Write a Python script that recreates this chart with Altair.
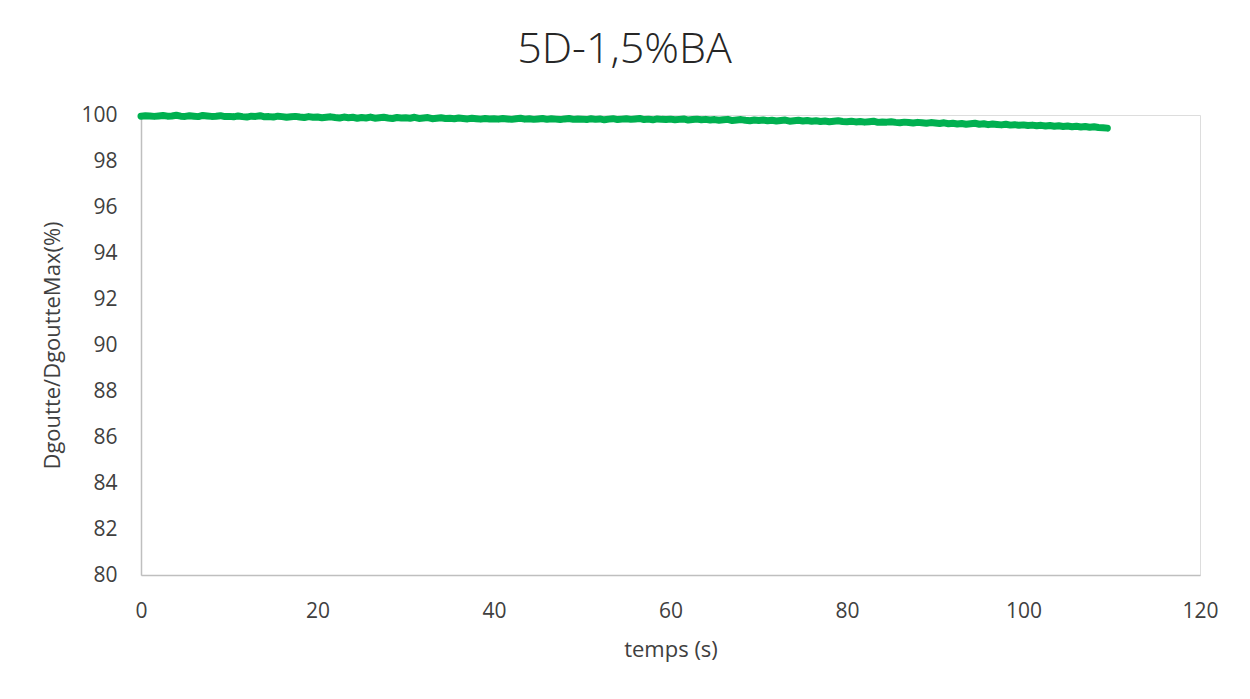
import altair as alt
import pandas as pd

TITLE = "5D-1,5%BA"
X_TITLE = "temps (s)"
Y_TITLE = "Dgoutte/DgoutteMax(%)"
X_TICKS = [0, 20, 40, 60, 80, 100, 120]
Y_TICKS = [80, 82, 84, 86, 88, 90, 92, 94, 96, 98, 100]
STEP_S = 0.5  # sampling interval of the recording (s)

ratio = [
    99.95, 99.97, 99.96, 99.94, 99.96, 99.98, 99.95, 99.96, 99.99, 99.95,
    99.94, 99.97, 99.95, 99.93, 99.98, 99.96, 99.94, 99.95, 99.97, 99.93,
    99.94, 99.92, 99.96, 99.93, 99.91, 99.95, 99.94, 99.97, 99.92, 99.93,
    99.91, 99.95, 99.93, 99.90, 99.92, 99.94, 99.91, 99.89, 99.93, 99.90,
    99.91, 99.88, 99.90, 99.92, 99.89, 99.87, 99.91, 99.88, 99.90, 99.86,
    99.89, 99.87, 99.91, 99.86, 99.88, 99.90, 99.87, 99.85, 99.89, 99.87,
    99.88, 99.86, 99.90, 99.85, 99.87, 99.89, 99.84, 99.86, 99.88, 99.85,
    99.86, 99.84, 99.87, 99.85, 99.83, 99.86, 99.84, 99.82, 99.85, 99.83,
    99.84, 99.82, 99.85, 99.83, 99.81, 99.84, 99.86, 99.82, 99.84, 99.81,
    99.83, 99.85, 99.81, 99.84, 99.82, 99.80, 99.83, 99.85, 99.81, 99.83,
    99.82, 99.80, 99.84, 99.81, 99.83, 99.79, 99.82, 99.84, 99.80, 99.82,
    99.84, 99.81, 99.83, 99.85, 99.80, 99.82, 99.79, 99.83, 99.81, 99.80,
    99.82, 99.79, 99.81, 99.83, 99.78, 99.80, 99.82, 99.79, 99.81, 99.78,
    99.80, 99.77, 99.79, 99.81, 99.76, 99.78, 99.80, 99.77, 99.75, 99.78,
    99.76, 99.78, 99.75, 99.77, 99.74, 99.76, 99.78, 99.73, 99.75, 99.77,
    99.74, 99.76, 99.73, 99.75, 99.72, 99.74, 99.71, 99.73, 99.75, 99.72,
    99.71, 99.73, 99.70, 99.72, 99.69, 99.71, 99.73, 99.68, 99.70, 99.69,
    99.71, 99.68, 99.66, 99.69, 99.67, 99.65, 99.68, 99.66, 99.64, 99.67,
    99.65, 99.63, 99.66, 99.62, 99.64, 99.61, 99.63, 99.60, 99.62, 99.64,
    99.60, 99.62, 99.58, 99.61, 99.59, 99.57, 99.60, 99.56, 99.58, 99.55,
    99.57, 99.54, 99.56, 99.53, 99.55, 99.52, 99.54, 99.51, 99.53, 99.50,
    99.52, 99.49, 99.51, 99.48, 99.50, 99.47, 99.49, 99.46, 99.45, 99.43,
]
temps = [i * STEP_S for i in range(len(ratio))]

df = pd.DataFrame({"temps": temps, "ratio": ratio})

FONT = "Open Sans"
LABEL_COLOR = "#404040"
AXIS_COLOR = "#bfbfbf"

x = alt.X(
    "temps:Q",
    scale=alt.Scale(domain=[0, 120], nice=False),
    axis=alt.Axis(
        values=X_TICKS, title=X_TITLE, grid=False, ticks=False,
        domainColor=AXIS_COLOR, domainWidth=1.5,
        labelFont=FONT, labelFontSize=21, labelColor=LABEL_COLOR, labelPadding=25,
        titleFont=FONT, titleFontSize=22, titleColor=LABEL_COLOR, titleFontWeight="normal",
        titlePadding=18, labelFlush=False,
    ),
)
y = alt.Y(
    "ratio:Q",
    scale=alt.Scale(domain=[80, 100], nice=False, zero=False),
    axis=alt.Axis(
        values=Y_TICKS, title=Y_TITLE, grid=False, ticks=False,
        domainColor=AXIS_COLOR, domainWidth=1.5,
        labelFont=FONT, labelFontSize=21, labelColor=LABEL_COLOR, labelPadding=24,
        titleFont=FONT, titleFontSize=22, titleColor=LABEL_COLOR, titleFontWeight="normal",
        titlePadding=16,
    ),
)

line = alt.Chart(df).mark_line(
    color="#00B050", strokeWidth=7, strokeCap="round", strokeJoin="round"
).encode(x=x, y=y)

chart = line.properties(
    width=1059,
    height=460,
    title=alt.TitleParams(
        TITLE, font=FONT, fontSize=43, fontWeight=300, color="#262626",
        anchor="middle", offset=32, dx=-46,
    ),
    padding={"left": 133, "top": 107, "right": 42, "bottom": 110},
    autosize=alt.AutoSizeParams(type="none"),
).configure_view(stroke=None).configure(background="white")

chart.save("out.html", embed_options={"renderer": "svg", "actions": False})
